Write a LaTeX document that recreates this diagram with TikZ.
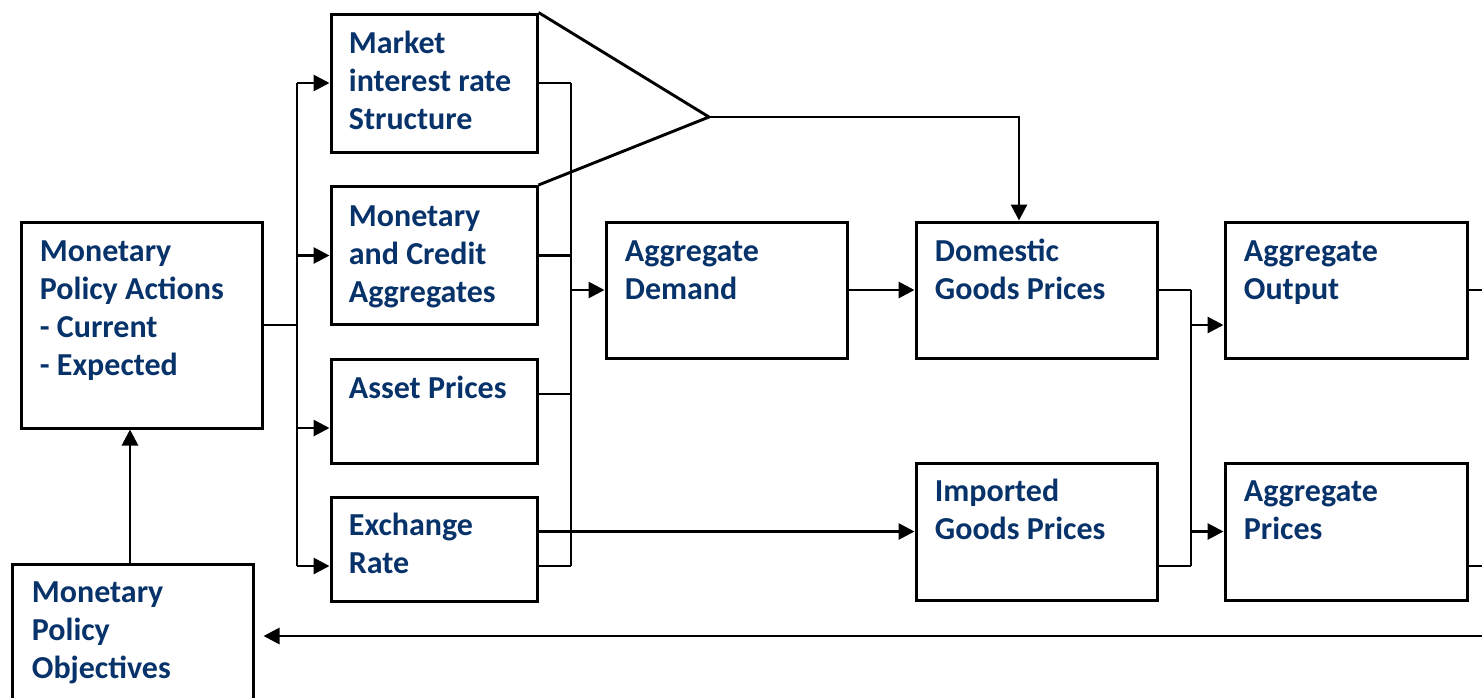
\documentclass[tikz,border=0pt]{standalone}
\usepackage{fontspec}
\setmainfont{Carlito}
\usetikzlibrary{arrows.meta}
\definecolor{labelblue}{HTML}{08336A}
\begin{document}
\begin{tikzpicture}[x=0.5pt,y=-0.5pt,
  box/.style={draw=black, line width=1.5pt, inner sep=0pt, fill=white},
  lbl/.style={anchor=north west, inner sep=0pt, align=left, text=labelblue,
    font=\fontsize{16pt}{19pt}\selectfont\bfseries},
  wire/.style={draw=black, line width=1.45pt},
  arr/.style={wire, -{Triangle[length=8pt,width=8pt]}}]
\useasboundingbox (0,0) rectangle (1482,697);

% boxes
\node[box, minimum width=120.5pt, minimum height=103pt] (act) at (141.5,325) {};
\node[box, minimum width=120.5pt, minimum height=103pt] (obj) at (132.5,667) {};
\node[box, minimum width=103pt, minimum height=69pt] (mkt) at (434,83) {};
\node[box, minimum width=103pt, minimum height=69pt] (mca) at (434,255.5) {};
\node[box, minimum width=103pt, minimum height=52pt] (ast) at (434,411) {};
\node[box, minimum width=103pt, minimum height=52pt] (exr) at (434,549) {};
\node[box, minimum width=120.5pt, minimum height=68pt] (ad) at (726.5,290) {};
\node[box, minimum width=120.5pt, minimum height=68pt] (dgp) at (1036.5,290) {};
\node[box, minimum width=120.5pt, minimum height=68.5pt] (igp) at (1036.5,531.5) {};
\node[box, minimum width=121pt, minimum height=68pt] (ao) at (1346,290) {};
\node[box, minimum width=121pt, minimum height=68.5pt] (ap) at (1346,531.5) {};

% labels
\node[lbl] (act-t) at ([xshift=10pt]act.north west) {\rule{0pt}{20.5pt}Monetary\\Policy Actions\\- Current\\- Expected};
\node[lbl] (obj-t) at ([xshift=10.5pt]obj.north west) {\rule{0pt}{20pt}Monetary\\Policy\\Objectives};
\node[lbl] (mkt-t) at ([xshift=9.5pt]mkt.north west) {\rule{0pt}{20.5pt}Market\\interest rate\\Structure};
\node[lbl] (mca-t) at ([xshift=9.5pt]mca.north west) {\rule{0pt}{20.5pt}Monetary\\and Credit\\Aggregates};
\node[lbl] (ast-t) at ([xshift=9.5pt]ast.north west) {\rule{0pt}{20.5pt}Asset Prices};
\node[lbl] (exr-t) at ([xshift=9.5pt]exr.north west) {\rule{0pt}{20pt}Exchange\\Rate};
\node[lbl] (ad-t) at ([xshift=10pt]ad.north west) {\rule{0pt}{20.5pt}Aggregate\\Demand};
\node[lbl] (dgp-t) at ([xshift=10pt]dgp.north west) {\rule{0pt}{20.5pt}Domestic\\Goods Prices};
\node[lbl] (igp-t) at ([xshift=10pt]igp.north west) {\rule{0pt}{20pt}Imported\\Goods Prices};
\node[lbl] (ao-t) at ([xshift=10pt]ao.north west) {\rule{0pt}{20.5pt}Aggregate\\Output};
\node[lbl] (ap-t) at ([xshift=10pt]ap.north west) {\rule{0pt}{20pt}Aggregate\\Prices};

% junction points
\coordinate (busA) at (297,0);
\coordinate (busB) at (571,0);
\coordinate (busC) at (1191,0);
\coordinate (apex) at (709,117);
\coordinate (drop) at (1019,117);
\coordinate (up) at (130,0);
\coordinate (edgeR) at (1500,0);
\coordinate (fb) at (1500,636);

% policy actions fan out to the four channels
\draw[wire] (act.east) -- (act.east -| busA);
\draw[wire] (mkt.west -| busA) -- ([yshift=-8.5pt]exr.west -| busA);
\draw[arr] (mkt.west -| busA) -- (mkt.west);
\draw[arr] (mca.west -| busA) -- (mca.west);
\draw[arr] ([yshift=-8.5pt]ast.west -| busA) -- ([yshift=-8.5pt]ast.west);
\draw[arr] ([yshift=-8.5pt]exr.west -| busA) -- ([yshift=-8.5pt]exr.west);

% channels collect into aggregate demand
\draw[wire] (mkt.east) -- (mkt.east -| busB);
\draw[wire] (mca.east) -- (mca.east -| busB);
\draw[wire] ([yshift=8.5pt]ast.east) -- ([yshift=8.5pt]ast.east -| busB);
\draw[wire] ([yshift=-8.5pt]exr.east) -- ([yshift=-8.5pt]exr.east -| busB);
\draw[wire] (mkt.east -| busB) -- ([yshift=-8.5pt]exr.east -| busB);
\draw[arr] (ad.west -| busB) -- (ad.west);
\draw[arr] (igp.west -| exr.east) -- (igp.west);

% interest rates and aggregates feed domestic prices directly
\draw[wire] (mkt.north east) -- (apex) -- (mca.north east);
\draw[arr] (apex) -- (drop) -- (drop |- dgp.north);
\draw[arr] (ad.east) -- (dgp.west);

% prices feed output and the price level
\draw[wire] (dgp.east) -- (dgp.east -| busC);
\draw[wire] ([yshift=-17.25pt]igp.east) -- ([yshift=-17.25pt]igp.east -| busC);
\draw[wire] (dgp.east -| busC) -- ([yshift=-17.25pt]igp.east -| busC);
\draw[arr] ([yshift=-17.5pt]ao.west -| busC) -- ([yshift=-17.5pt]ao.west);
\draw[arr] (ap.west -| busC) -- (ap.west);
\draw[wire] (ao.east) -- (ao.east -| edgeR);
\draw[wire] ([yshift=-17.25pt]ap.east) -- ([yshift=-17.25pt]ap.east -| edgeR);

% feedback to the objectives and on to the actions
\draw[arr, shorten >=4.5pt] (fb) -- (fb -| obj.east);
\draw[arr] (obj.north -| up) -- (act.south -| up);
\end{tikzpicture}
\end{document}
